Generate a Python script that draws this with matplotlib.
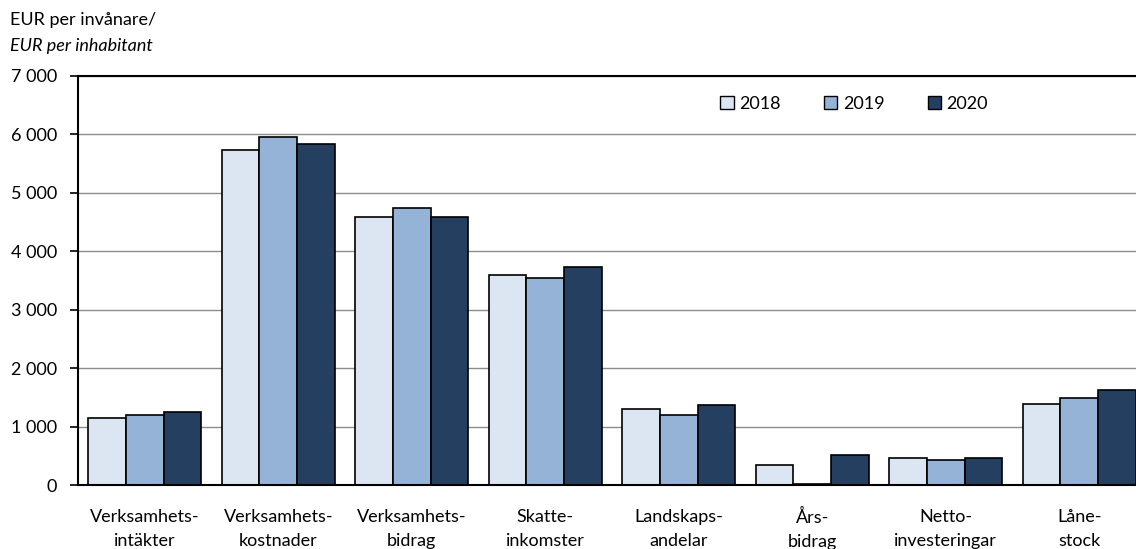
import matplotlib
matplotlib.use("Agg")
import matplotlib.pyplot as plt
import numpy as np

categories = ["Verksamhets-\nintäkter", "Verksamhets-\nkostnader", "Verksamhets-\nbidrag",
              "Skatte-\ninkomster", "Landskaps-\nandelar", "Års-\nbidrag",
              "Netto-\ninvesteringar", "Låne-\nstock"]
years = ["2018", "2019", "2020"]
v2018 = [1150, 5730, 4580, 3590, 1305, 350, 455, 1385]
v2019 = [1205, 5950, 4745, 3540, 1200, 20, 435, 1485]
v2020 = [1255, 5840, 4580, 3725, 1365, 515, 455, 1625]
yticks = [0, 1000, 2000, 3000, 4000, 5000, 6000, 7000]
ytick_labels = ["0", "1 000", "2 000", "3 000", "4 000", "5 000", "6 000", "7 000"]
colors = ["#DCE6F2", "#95B3D7", "#253F60"]

plt.rcParams['font.family'] = ['Lato', 'DejaVu Sans']
FS = 13

fig = plt.figure(figsize=(11.36, 5.49), dpi=100)
# the plot area runs slightly past the right edge of the canvas
ax = fig.add_axes([78 / 1136, 1 - 485 / 549, 1068 / 1136, 409 / 549])

x = np.arange(len(categories))
w = 0.283
for i, (vals, yr, c) in enumerate(zip([v2018, v2019, v2020], years, colors)):
    ax.bar(x + (i - 1) * w, vals, width=w, color=c, edgecolor="black",
           linewidth=1.2, label=yr, zorder=3)

ax.set_xlim(-0.5, len(categories) - 0.5)
ax.set_ylim(0, 7000)
ax.set_yticks(yticks)
ax.set_yticklabels(ytick_labels, fontsize=FS)
ax.set_xticks(x)
ax.set_xticklabels(categories, fontsize=FS, linespacing=1.65)
ax.tick_params(axis="x", length=0, pad=17)
ax.tick_params(axis="y", length=6, width=1.2, direction="out", pad=9)
ax.yaxis.grid(True, color="#8c8c8c", linewidth=1.0, zorder=0)
ax.spines["right"].set_visible(False)
ax.spines["top"].set_linewidth(1.5)
ax.spines["left"].set_linewidth(1.5)
ax.spines["bottom"].set_linewidth(1.5)
ax.spines["bottom"].set_zorder(4)

leg = ax.legend(ncol=3, loc="center left", bbox_to_anchor=((720 - 78) / 1068, 1 - (104 - 76) / 409),
                frameon=False, fontsize=FS, handlelength=0.75, handleheight=0.75,
                columnspacing=2.4, handletextpad=0.3, borderaxespad=0, borderpad=0)
for h in leg.legend_handles:
    h.set_linewidth(1.0)

fig.text(10 / 1136, 1 - 20 / 549, "EUR per invånare/", fontsize=FS, va="center")
fig.text(10 / 1136, 1 - 46 / 549, "EUR per inhabitant", fontsize=FS, va="center", style="italic")

fig.savefig("out.png", dpi=100)
